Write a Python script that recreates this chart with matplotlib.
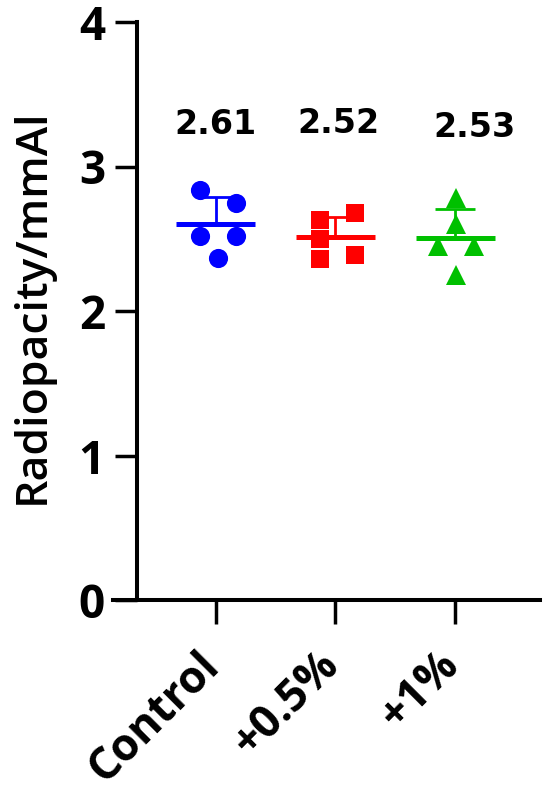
import numpy as np
import matplotlib.pyplot as plt
from matplotlib.transforms import ScaledTranslation

groups = ["Control", "+0.5%", "+1%"]
colors = ["#0000FF", "#FF0000", "#00C000"]
markers = ["o", "s", "^"]
control = [2.84, 2.75, 2.52, 2.52, 2.37]
half_pct = [2.63, 2.68, 2.50, 2.36, 2.39]
one_pct = [2.78, 2.60, 2.45, 2.45, 2.25]
mean_labels = ["2.61", "2.52", "2.53"]

# horizontal scatter of the points inside each column
jitter = [[-0.134, 0.167, -0.134, 0.167, 0.019],
          [-0.13, 0.167, -0.13, -0.13, 0.167],
          [0.008, 0.008, -0.14, 0.16, 0.008]]
label_pos = [(0.0, 3.29), (1.025, 3.30), (2.16, 3.27)]
msizes = [13.8, 12.8, 13.8]

series = [control, half_pct, one_pct]

fig = plt.figure(figsize=(5.5, 7.94), dpi=100)
ax = fig.add_axes([113/550, 1 - 600/794, (540 - 113)/550, (600 - 22)/794])

for i, vals in enumerate(series):
    vals = np.array(vals)
    xs = i + np.array(jitter[i])
    ax.plot(xs, vals, linestyle="none", marker=markers[i], color=colors[i],
            markersize=msizes[i], markeredgewidth=0, zorder=3)
    m = vals.mean()
    sd = vals.std(ddof=1)
    ax.hlines(m, i - 0.33, i + 0.33, color=colors[i], linewidth=3.6, zorder=4)
    ax.vlines(i, m, m + sd, color=colors[i], linewidth=2.0, zorder=4)
    ax.hlines(m + sd, i - 0.167, i + 0.167, color=colors[i], linewidth=2.0, zorder=4)
    ax.text(label_pos[i][0], label_pos[i][1], mean_labels[i], ha="center", va="center",
            fontsize=24, fontweight="bold", family="DejaVu Sans")

ax.set_xlim(-0.86, 2.71)
ax.set_ylim(0, 4)
ax.spines["left"].set_position(("data", -0.66))
ax.spines["top"].set_visible(False)
ax.spines["right"].set_visible(False)
for s in ["left", "bottom"]:
    ax.spines[s].set_linewidth(2.9)

ax.set_yticks([0, 1, 2, 3, 4])
ax.set_yticklabels(["0", "1", "2", "3", "4"], fontsize=33, fontweight="bold", family="Open Sans")
ax.tick_params(axis="y", length=16, width=2.5, pad=7)
ax.set_xticks(range(len(groups)))
ax.set_xticklabels(groups, fontsize=32, fontweight="bold", family="Open Sans",
                   rotation=45, ha="right", rotation_mode="anchor")
ax.tick_params(axis="x", length=17, width=2.5, pad=14)
shift = ScaledTranslation(-0.19, 0, fig.dpi_scale_trans)
for lab in ax.get_xticklabels():
    lab.set_transform(lab.get_transform() + shift)

ax.set_ylabel("Radiopacity/mmAl", fontsize=32, fontweight="semibold", family="Open Sans")
ax.yaxis.set_label_coords(-0.138, 0.508)

fig.savefig("out.png", dpi=100)
